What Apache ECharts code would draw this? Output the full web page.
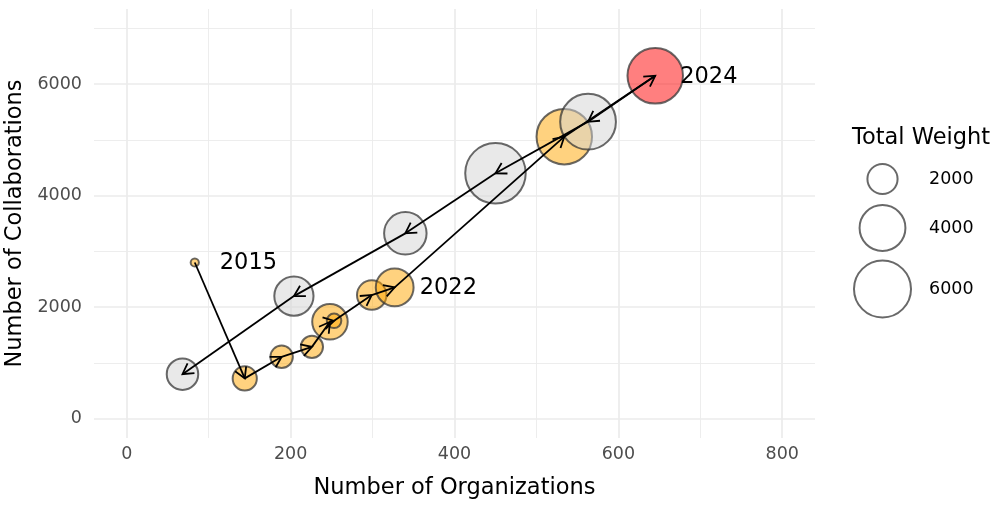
<!DOCTYPE html>
<html>
<head>
<meta charset="utf-8">
<script src="https://cdn.jsdelivr.net/npm/echarts@6/dist/echarts.min.js"></script>
<style>
  html, body { margin: 0; padding: 0; background: #fff; }
  #chart { width: 1000px; height: 507px; }
</style>
</head>
<body>
<div id="chart"></div>
<script>
// axis breaks
var xTicks = [0, 200, 400, 600, 800];
var xMinor = [100, 300, 500, 700];
var yTicks = [0, 2000, 4000, 6000];
var yMinor = [1000, 3000, 5000, 7000];

// points, in path order (2015 -> 2024, then the grey ones)
var orgs    = [83, 144, 189, 226, 248, 253, 299, 327, 534, 645, 563, 450, 340, 204, 68];
var collabs = [2800, 720, 1107, 1286, 1735, 1753, 2215, 2353, 5058, 6150, 5328, 4401, 3323, 2197, 796];
var weights = [800, 1490, 1370, 1350, 2575, 955, 1940, 2855, 5700, 5700, 5750, 6720, 3490, 3040, 2135];
var groups  = ['base', 'base', 'base', 'base', 'base', 'base', 'base', 'base', 'base', 'peak',
               'other', 'other', 'other', 'other', 'other'];
var labels  = ['2015', '', '', '', '', '', '', '2022', '', '2024', '', '', '', '', ''];

var legendWeights = [2000, 4000, 6000];

var fills = { base: 'rgba(255,165,0,0.5)', peak: 'rgba(255,0,0,0.5)', other: 'rgba(211,211,211,0.5)' };
var edge = 'rgba(55,55,55,0.75)';
var FONT = 'DejaVu Sans';

// area-style size scale
function bubbleSize(w) {
  return 5 + 0.72 * Math.sqrt(Math.max(w - 780, 0));
}

// open arrow head, tip at the centre of a square box
var arrowHead = 'path://M0,-1.8 L6.78,9.95 L5.22,10.85 L0,1.8 L-5.22,10.85 L-6.78,9.95 Z ' +
  'M-11,-11 L-10.99,-11 L-11,-10.99 Z M11,11 L10.99,11 L11,10.99 Z';

var points = [];
for (var i = 0; i < orgs.length; i++) {
  points.push({
    value: [orgs[i], collabs[i], weights[i]],
    itemStyle: { color: fills[groups[i]] },
    label: { show: labels[i] !== '', formatter: labels[i] }
  });
}

var segments = [];
for (var j = 0; j < orgs.length - 1; j++) {
  segments.push({ coords: [[orgs[j], collabs[j]], [orgs[j + 1], collabs[j + 1]]] });
}

var myChart = echarts.init(document.getElementById('chart'));

var legendItems = [{
  type: 'text', x: 852, y: 138,
  style: { text: 'Total Weight', fontSize: 22.5, fontFamily: FONT, fill: '#000', verticalAlign: 'middle' }
}];
var legendY = [179, 228, 289];
for (var k = 0; k < legendWeights.length; k++) {
  legendItems.push({
    type: 'circle',
    shape: { cx: 882.5, cy: legendY[k], r: bubbleSize(legendWeights[k]) / 2 },
    style: { fill: 'none', stroke: edge, lineWidth: 2 }
  });
  legendItems.push({
    type: 'text', x: 929, y: legendY[k],
    style: { text: String(legendWeights[k]), fontSize: 17.5, fontFamily: FONT, fill: '#000',
             verticalAlign: 'middle', align: 'left' }
  });
}

function plain(v) { return String(v); }

myChart.setOption({
  animation: false,
  backgroundColor: '#fff',
  textStyle: { fontFamily: FONT },
  grid: { left: 94, right: 185, top: 9, bottom: 69, containLabel: false, outerBoundsMode: 'none' },
  xAxis: [
    {
      type: 'value', min: -40, max: 840, position: 'bottom',
      axisLine: { show: false }, axisTick: { show: false, customValues: xMinor },
      axisLabel: { show: false },
      splitLine: { show: true, lineStyle: { color: '#ebebeb', width: 0.9 } }
    },
    {
      type: 'value', min: -40, max: 840, position: 'bottom',
      axisLine: { show: false }, axisTick: { show: false, customValues: xTicks },
      axisLabel: { customValues: xTicks, formatter: plain, margin: 7, fontSize: 17.5, color: '#4d4d4d', fontFamily: FONT },
      splitLine: { show: true, lineStyle: { color: '#ebebeb', width: 1.7 } },
      name: 'Number of Organizations', nameLocation: 'middle', nameGap: 39,
      nameTextStyle: { fontSize: 22.5, color: '#000', fontFamily: FONT }
    }
  ],
  yAxis: [
    {
      type: 'value', min: -350, max: 7350, position: 'left',
      axisLine: { show: false }, axisTick: { show: false, customValues: yMinor },
      axisLabel: { show: false },
      splitLine: { show: true, lineStyle: { color: '#ebebeb', width: 0.9 } }
    },
    {
      type: 'value', min: -350, max: 7350, position: 'left',
      axisLine: { show: false }, axisTick: { show: false, customValues: yTicks },
      axisLabel: { customValues: yTicks, formatter: plain, margin: 12, fontSize: 17.5, color: '#4d4d4d', fontFamily: FONT },
      splitLine: { show: true, lineStyle: { color: '#ebebeb', width: 1.7 } },
      name: 'Number of Collaborations', nameLocation: 'middle', nameGap: 54, nameRotate: 90,
      nameTextStyle: { fontSize: 22.5, color: '#000', fontFamily: FONT }
    }
  ],
  graphic: legendItems,
  series: [
    {
      type: 'scatter',
      xAxisIndex: 0, yAxisIndex: 0,
      data: points,
      symbolSize: function (val) { return bubbleSize(val[2]); },
      itemStyle: { borderColor: edge, borderWidth: 2, opacity: 1 },
      label: {
        position: 'inside', align: 'left', verticalAlign: 'middle', offset: [25, 1],
        fontSize: 22.5, color: '#000', fontFamily: FONT
      },
      emphasis: { disabled: true },
      z: 2
    },
    {
      type: 'lines',
      coordinateSystem: 'cartesian2d',
      xAxisIndex: 0, yAxisIndex: 0,
      data: segments,
      symbol: ['none', arrowHead],
      symbolSize: 22,
      lineStyle: { color: '#000', width: 1.8, opacity: 1, curveness: 0 },
      silent: true,
      z: 3
    }
  ]
});
</script>
</body>
</html>
